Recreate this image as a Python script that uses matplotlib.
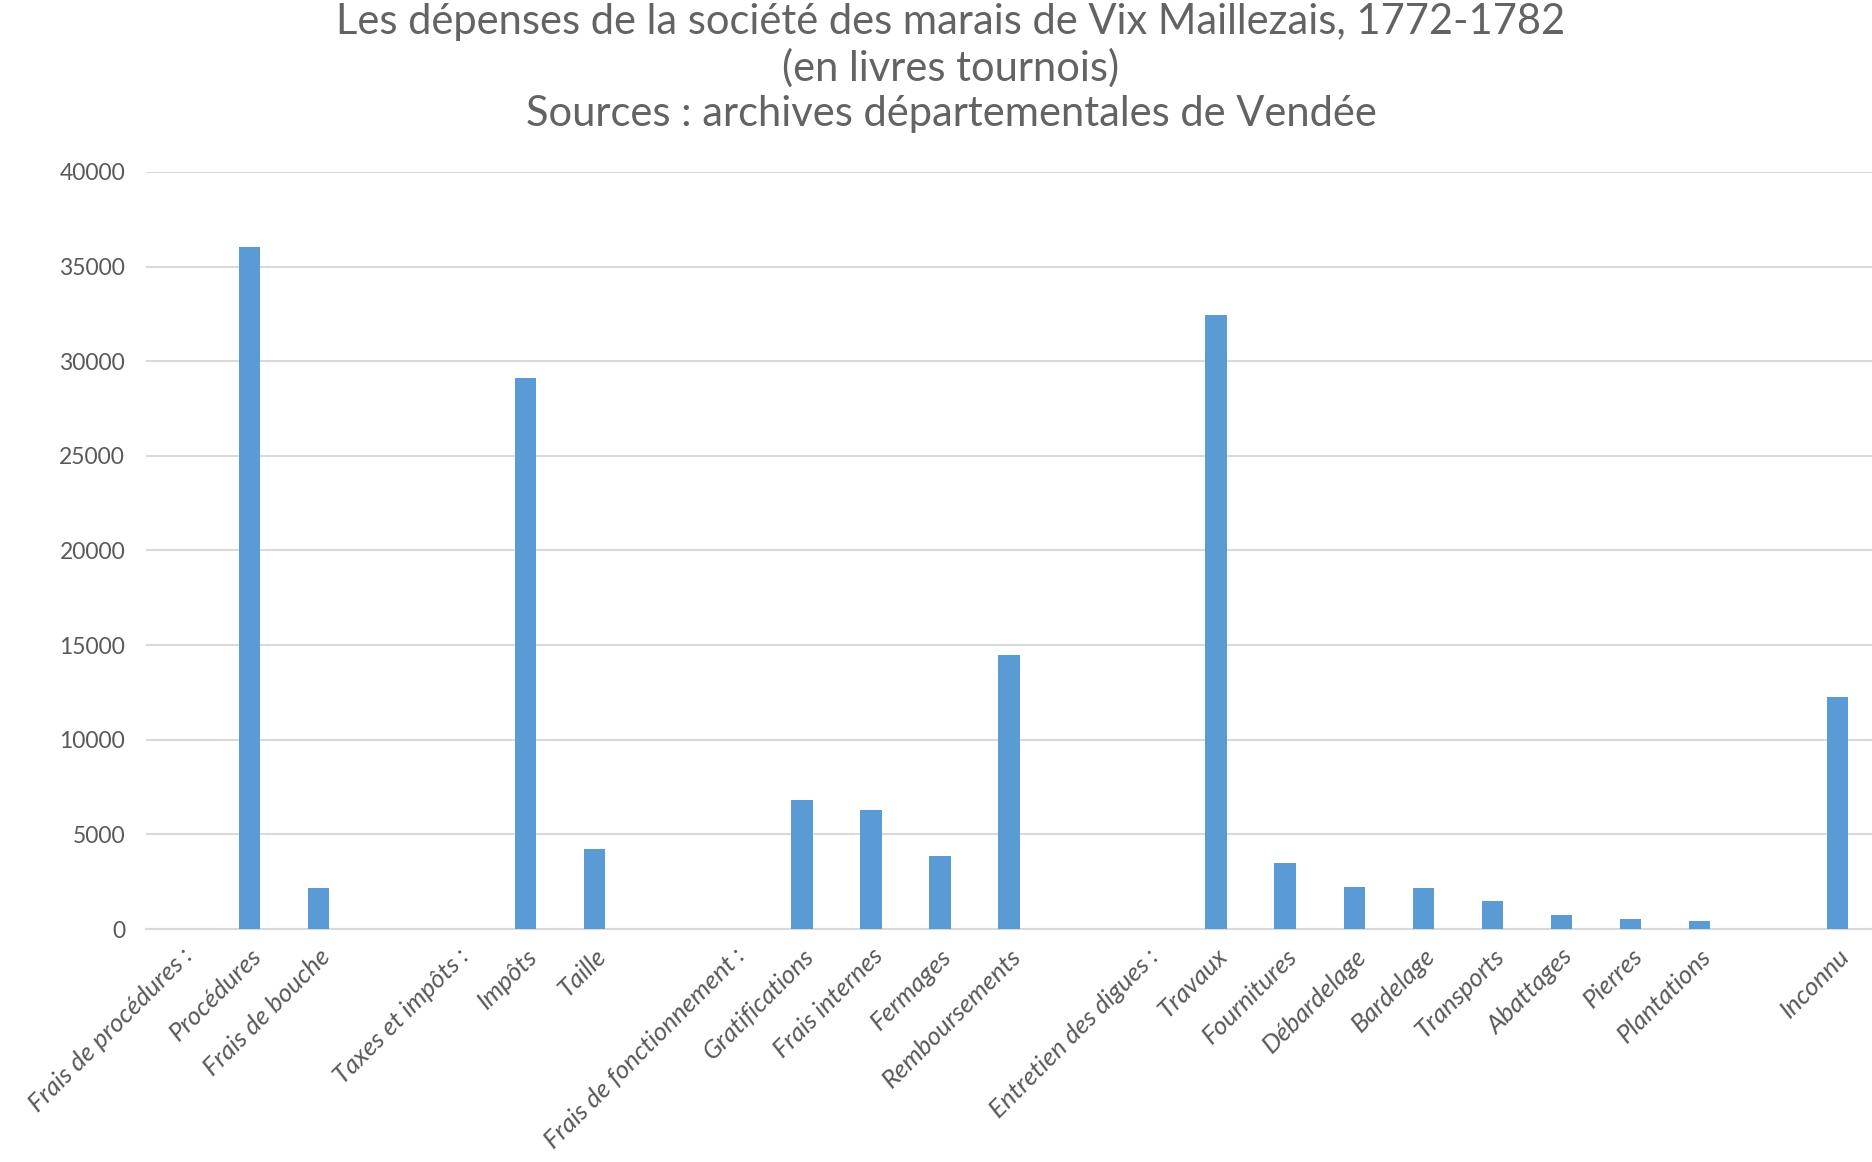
import numpy as np
import matplotlib.pyplot as plt

categories = [
    "Frais de procédures :", "Procédures", "Frais de bouche", "",
    "Taxes et impôts :", "Impôts", "Taille", "",
    "Frais de fonctionnement :", "Gratifications", "Frais internes", "Fermages",
    "Remboursements", "",
    "Entretien des digues :", "Travaux", "Fournitures", "Débardelage",
    "Bardelage", "Transports", "Abattages", "Pierres", "Plantations", "",
    "Inconnu",
]
values = [
    0, 36050, 2150, 0,
    0, 29100, 4250, 0,
    0, 6800, 6300, 3850, 14500, 0,
    0, 32450, 3470, 2200, 2150, 1480, 740, 530, 420, 0,
    12250,
]
yticks = [0, 5000, 10000, 15000, 20000, 25000, 30000, 35000, 40000]

grey = "#595959"
fig = plt.figure(figsize=(18.72, 11.62), dpi=100)
ax = fig.add_axes([0.078, 0.2005, 0.922, 0.6515])

x = np.arange(len(categories))
ax.bar(x, values, width=0.31, color="#5B9BD5", zorder=3)

ax.set_xlim(-0.5, len(categories) - 0.5)
ax.set_ylim(0, 40000)
ax.set_yticks(yticks)
ax.set_yticklabels([str(v) for v in yticks], fontsize=16.5, color=grey, family="Lato")
ax.yaxis.grid(True, color="#D9D9D9", linewidth=1.5, zorder=0)
ax.tick_params(axis="y", length=0, pad=15)
ax.tick_params(axis="x", length=0, pad=11)

ax.set_xticks(x)
ax.set_xticklabels(categories, rotation=45, ha="right", rotation_mode="anchor",
                   fontsize=18.5, color=grey, style="italic", family="Lato")

for s in ["top", "right", "left"]:
    ax.spines[s].set_visible(False)
ax.spines["bottom"].set_color("#D9D9D9")
ax.spines["bottom"].set_linewidth(1.5)

title = ("Les dépenses de la société des marais de Vix Maillezais, 1772-1782\n"
         "(en livres tournois)\n"
         "Sources : archives départementales de Vendée")
fig.text(0.508, 0.997, title, ha="center", va="top", fontsize=30,
         color="#636363", family="Lato", linespacing=1.22)

fig.savefig("out.png", dpi=100)
